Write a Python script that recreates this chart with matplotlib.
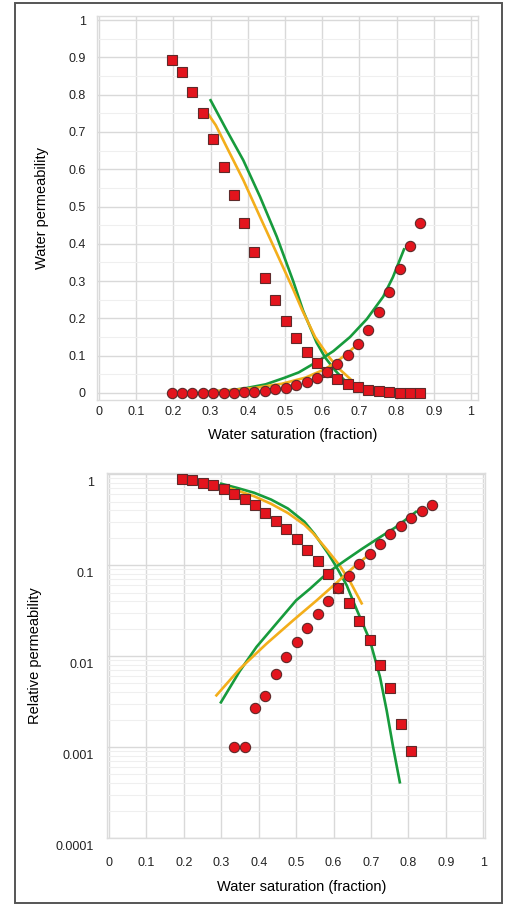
import numpy as np
import matplotlib
matplotlib.use("Agg")
import matplotlib.pyplot as plt
from matplotlib.ticker import MultipleLocator, LogLocator, NullFormatter
from matplotlib.transforms import ScaledTranslation
from matplotlib.patches import Rectangle

plt.rcParams['font.family'] = ['Liberation Sans', 'DejaVu Sans']

# Lab data (water saturation, oil / water relative permeability)
sw = [0.196, 0.223, 0.251, 0.279, 0.307, 0.335, 0.363, 0.391, 0.418, 0.446,
      0.474, 0.502, 0.530, 0.558, 0.585, 0.613, 0.641, 0.669, 0.696, 0.724,
      0.752, 0.780, 0.808, 0.835, 0.863]
kro = [0.893, 0.861, 0.808, 0.752, 0.681, 0.607, 0.530, 0.455, 0.378, 0.309,
       0.249, 0.194, 0.148, 0.111, 0.080, 0.056, 0.0384, 0.0241, 0.0151, 0.0080,
       0.00443, 0.00179, 0.000904, 0.0, 0.0]
krw = [0.0, 0.0, 0.0, 0.0, 0.0, 0.001, 0.001, 0.0027, 0.0036, 0.0063,
       0.0098, 0.0144, 0.0205, 0.0293, 0.0404, 0.056, 0.0769, 0.1026, 0.132, 0.170,
       0.218, 0.270, 0.332, 0.395, 0.456]

# Fitted curves
green_kro_x = [0.300, 0.343, 0.388, 0.433, 0.478, 0.522, 0.549, 0.585, 0.608, 0.635,
               0.661, 0.697, 0.724, 0.742, 0.759, 0.777]
green_kro_y = [0.785, 0.705, 0.624, 0.526, 0.419, 0.300, 0.220, 0.135, 0.095, 0.060,
               0.033, 0.0149, 0.0059, 0.0025, 0.0010, 0.00041]
yellow_kro_x = [0.292, 0.314, 0.343, 0.388, 0.433, 0.478, 0.522, 0.545, 0.581,
                0.617, 0.644, 0.675]
yellow_kro_y = [0.750, 0.718, 0.660, 0.571, 0.472, 0.374, 0.278, 0.225, 0.150,
                0.098, 0.066, 0.038]
green_krw_x = [0.299, 0.349, 0.394, 0.448, 0.500, 0.537, 0.585, 0.630, 0.675, 0.720,
               0.764, 0.790, 0.820]
green_krw_y = [0.0031, 0.0068, 0.0126, 0.023, 0.041, 0.055, 0.083, 0.112, 0.150, 0.198,
               0.258, 0.310, 0.385]
yellow_krw_x = [0.287, 0.349, 0.421, 0.492, 0.555, 0.608, 0.635, 0.660, 0.688]
yellow_krw_y = [0.0037, 0.0072, 0.0137, 0.0247, 0.041, 0.064, 0.081, 0.100, 0.124]

x_ticks = [0, 0.1, 0.2, 0.3, 0.4, 0.5, 0.6, 0.7, 0.8, 0.9, 1]
x_labels = ['0', '0.1', '0.2', '0.3', '0.4', '0.5', '0.6', '0.7', '0.8', '0.9', '1']
lin_ticks = [0, 0.1, 0.2, 0.3, 0.4, 0.5, 0.6, 0.7, 0.8, 0.9, 1]
lin_labels = ['0', '0.1', '0.2', '0.3', '0.4', '0.5', '0.6', '0.7', '0.8', '0.9', '1']
log_ticks = [1e-4, 1e-3, 1e-2, 1e-1, 1]
log_labels = ['0.0001', '0.001', '0.01', '0.1', '1']

GREEN = '#179b3c'
YELLOW = '#f3ae1b'
RED = '#e3141d'
EDGE = '#5e2a2a'

fig = plt.figure(figsize=(5.06, 9.05), dpi=100)
W, H = 506, 905

# outer frame
fig.patches.append(Rectangle((15 / W, 1 - 903 / H), 487 / W, 900 / H,
                             transform=fig.transFigure, fill=False,
                             edgecolor='#555555', linewidth=1.4))


def draw(ax, log=False):
    sw_a = np.array(sw)
    kro_a = np.array(kro)
    krw_a = np.array(krw)
    if log:
        kro_a = np.where(kro_a > 0, kro_a, np.nan)
        krw_a = np.where(krw_a > 0, krw_a, np.nan)
    ax.plot(green_kro_x, green_kro_y, color=GREEN, lw=1.9, zorder=3)
    ax.plot(yellow_kro_x, yellow_kro_y, color=YELLOW, lw=1.9, zorder=3)
    ax.plot(green_krw_x, green_krw_y, color=GREEN, lw=1.9, zorder=3)
    ax.plot(yellow_krw_x, yellow_krw_y, color=YELLOW, lw=1.9, zorder=3)
    ax.plot(sw_a, kro_a, 's', ms=6.6, mfc=RED, mec=EDGE, mew=0.8, zorder=4)
    ax.plot(sw_a, krw_a, 'o', ms=7.4, mfc=RED, mec=EDGE, mew=0.8, zorder=4)
    ax.set_xticks(x_ticks)
    ax.set_xticklabels(x_labels)
    ax.grid(True, which='major', color='#d9d9d9', lw=1.0, zorder=0)
    ax.grid(True, which='minor', axis='y', color='#efefef', lw=0.8, zorder=0)
    ax.tick_params(length=0, labelsize=9, colors='#222222')
    ax.tick_params(which='minor', length=0)
    for s in ax.spines.values():
        s.set_color('#dcdcdc')
        s.set_linewidth(1.0)
    ax.set_axisbelow(True)


# top: linear axis
ax1 = fig.add_axes([97 / W, 1 - 400 / H, 381 / W, 384 / H])
draw(ax1)
ax1.set_xlim(-0.0054, 1.019)
ax1.set_ylim(-0.019, 1.011)
ax1.set_yticks(lin_ticks)
ax1.set_yticklabels(lin_labels)
ax1.yaxis.set_minor_locator(MultipleLocator(0.05))
ax1.tick_params(axis='y', pad=8)
ax1.tick_params(axis='x', pad=4)
ax1.set_xlabel('Water saturation (fraction)', fontsize=10.5, va='center')
ax1.set_ylabel('Water permeability', fontsize=10.5, va='center')
ax1.xaxis.set_label_coords((293 - 97) / 381, (400 - 435) / 384)
ax1.yaxis.set_label_coords((42 - 97) / 381, 0.5)

# bottom: log axis
ax2 = fig.add_axes([107 / W, 1 - 838 / H, 378 / W, 365 / H])
ax2.set_yscale('log')
draw(ax2, log=True)
ax2.set_xlim(-0.0053, 1.0045)
ax2.set_ylim(1e-4, 1.03)
ax2.set_yticks(log_ticks)
ax2.set_yticklabels(log_labels)
ax2.yaxis.set_minor_locator(LogLocator(base=10, subs=np.arange(2, 10)))
ax2.yaxis.set_minor_formatter(NullFormatter())
ax2.tick_params(axis='y', pad=9.4)
ax2.tick_params(axis='x', pad=14)
offset = ScaledTranslation(0, -7 / 100, fig.dpi_scale_trans)
for lab in ax2.get_yticklabels():
    lab.set_transform(lab.get_transform() + offset)
ax2.set_xlabel('Water saturation (fraction)', fontsize=10.5, va='center')
ax2.set_ylabel('Relative permeability', fontsize=10.5, va='center')
ax2.xaxis.set_label_coords((302 - 107) / 378, (838 - 887) / 365)
ax2.yaxis.set_label_coords((35 - 107) / 378, 0.5)

fig.savefig('out.png', dpi=100)
